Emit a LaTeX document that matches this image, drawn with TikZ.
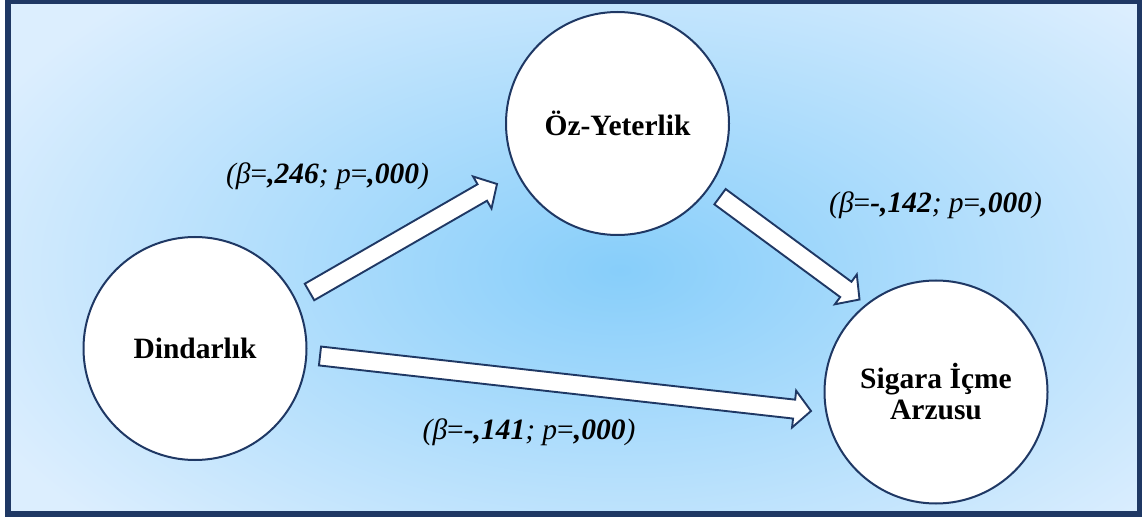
\documentclass[tikz,border=0pt]{standalone}
\usepackage{fontspec}
\setmainfont{Liberation Serif}
\usetikzlibrary{calc}
\definecolor{navy}{HTML}{1F3864}
\definecolor{bgin}{HTML}{87CEFA}
\definecolor{bgout}{HTML}{DCEEFE}
\newcommand\blockarrow[2]{%
  \coordinate (#2hb) at ($(#2)!17pt!(#1)$);
  \draw[barrow] ($(#1)!9.5pt!90:(#2)$) -- ($(#2hb)!9.5pt!90:(#2)$) -- ($(#2hb)!18.5pt!90:(#2)$) -- (#2) -- ($(#2hb)!18.5pt!-90:(#2)$) -- ($(#2hb)!9.5pt!-90:(#2)$) -- ($(#1)!9.5pt!-90:(#2)$) -- cycle;}
\begin{document}
\begin{tikzpicture}[x=1pt,y=-1pt,
  bubble/.style={circle, draw=navy, line width=2pt, fill=white, minimum size=223pt, inner sep=0pt, font=\fontsize{29.5}{31}\selectfont\bfseries, align=center},
  barrow/.style={draw=navy, fill=white, line width=1.9pt, miter limit=10},
  lbl/.style={anchor=base, font=\fontsize{29.5}{32}\selectfont\itshape, inner sep=0pt}]
\useasboundingbox (0,0) rectangle (1142,518);
\fill[white] (0,0) rectangle (1142,518);
\begin{scope}
  \clip (8,1) rectangle (1140,514);
  \shade[inner color=bgin, outer color=bgout] (-80,-110) rectangle (1320,650);
\end{scope}
\draw[navy, line width=6pt] (8,1) rectangle (1140,514);

\node[bubble] (oz) at (617.5,123.5) {\raisebox{1.5pt}{Öz-Yeterlik}};
\node[bubble] (din) at (195,348.5) {Dindarlık};
\node[bubble] (sig) at (936,392) {Sigara İçme\\Arzusu};

\coordinate (a1s) at (309.5,292); \coordinate (a1e) at (497,184);
\coordinate (a2s) at (720,196.7); \coordinate (a2e) at (859.5,299.5);
\coordinate (a3s) at (320,356);   \coordinate (a3e) at (811,411);
\blockarrow{a1s}{a1e}
\blockarrow{a2s}{a2e}
\blockarrow{a3s}{a3e}

\node[lbl] (l1) at (327.5,183.3) {(β\textup{=}\textbf{,246}; p\textup{=}\textbf{,000})};
\node[lbl] (l2) at (935.5,212.3) {(β\textup{=}\textbf{-,142}; p\textup{=}\textbf{,000})};
\node[lbl] (l3) at (529,439.5) {(β\textup{=}\textbf{-,141}; p\textup{=}\textbf{,000})};
\end{tikzpicture}
\end{document}
